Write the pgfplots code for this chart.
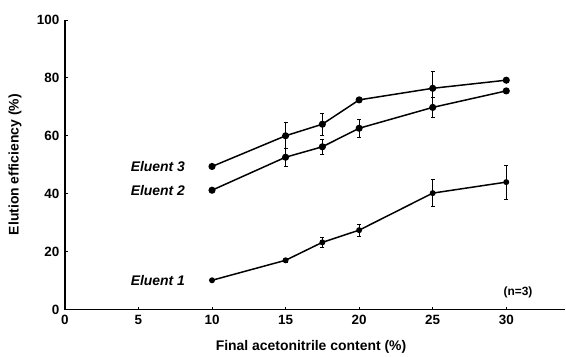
\documentclass[border=0pt]{standalone}
\usepackage{fontspec}
\setmainfont{Liberation Sans}
\usepackage{pgfplots}
\pgfplotsset{compat=1.18}
\begin{document}
\begin{tikzpicture}[x=1bp,y=1bp]
\begin{axis}[
  scale only axis,
  width=501bp, height=290bp,
  xmin=0, xmax=34, ymin=0, ymax=100,
  axis x line=bottom, axis y line=left,
  axis line style={-, line width=1.8pt},
  xtick={0,5,10,15,20,25,30},
  ytick={0,20,40,60,80,100},
  tick align=inside,
  major tick length=3pt,
  tick style={line width=0.9pt, black},
  /pgf/number format/assume math mode=true,
  ticklabel style={font=\fontsize{13.5}{15}\selectfont\bfseries},
  xticklabel style={yshift=-2bp},
  yticklabel style={xshift=-2bp},
  xlabel={Final acetonitrile content (\%)},
  ylabel={Elution efficiency (\%)},
  label style={font=\fontsize{14}{16}\selectfont\bfseries},
  xlabel style={at={(axis description cs:0.492,-0.1276)}, anchor=center},
  ylabel style={at={(axis description cs:-0.0998,0.5)}, anchor=center},
  clip=false,
]
% Eluent 3
\addplot[black, line width=1.5pt, mark=*, mark size=2.8pt, mark options={fill=black},
  error bars/.cd, y dir=both, y explicit,
  error bar style={line width=0.8pt},
  error mark options={rotate=90, mark size=2pt, line width=0.8pt}]
  coordinates {
  (10,49.4) +- (0,0.6)
  (15,60.0) +- (0,4.5)
  (17.5,64.0) +- (0,3.8)
  (20,72.4) +- (0,0.8)
  (25,76.4) +- (0,6.0)
  (30,79.2) +- (0,0.6)
  };
% Eluent 2
\addplot[black, line width=1.5pt, mark=*, mark size=2.8pt, mark options={fill=black},
  error bars/.cd, y dir=both, y explicit,
  error bar style={line width=0.8pt},
  error mark options={rotate=90, mark size=2pt, line width=0.8pt}]
  coordinates {
  (10,41.2) +- (0,0.6)
  (15,52.6) +- (0,3.2)
  (17.5,56.2) +- (0,2.6)
  (20,62.6) +- (0,3.0)
  (25,69.8) +- (0,3.4)
  (30,75.5) +- (0,0.8)
  };
% Eluent 1
\addplot[black, line width=1.5pt, mark=*, mark size=2.2pt, mark options={fill=black},
  error bars/.cd, y dir=both, y explicit,
  error bar style={line width=0.8pt},
  error mark options={rotate=90, mark size=2pt, line width=0.8pt}]
  coordinates {
  (10,10.1) +- (0,0.5)
  (15,17.0) +- (0,0.8)
  (17.5,23.2) +- (0,1.6)
  (20,27.4) +- (0,2.0)
  (25,40.2) +- (0,4.6)
  (30,44.0) +- (0,5.8)
  };
\node[anchor=east, font=\fontsize{14}{16}\selectfont\bfseries\itshape] at (axis cs:8.4,49.4) {Eluent 3};
\node[anchor=east, font=\fontsize{14}{16}\selectfont\bfseries\itshape] at (axis cs:8.4,41.2) {Eluent 2};
\node[anchor=east, font=\fontsize{14}{16}\selectfont\bfseries\itshape] at (axis cs:8.4,10.1) {Eluent 1};
\node[font=\fontsize{12}{14}\selectfont\bfseries] at (axis cs:30.8,5.9) {(n=3)};
\path (rel axis cs:0,0) ++(-65bp,-45bp);
\path (rel axis cs:1,1) ++(0,20bp);
\end{axis}
\end{tikzpicture}
\end{document}
